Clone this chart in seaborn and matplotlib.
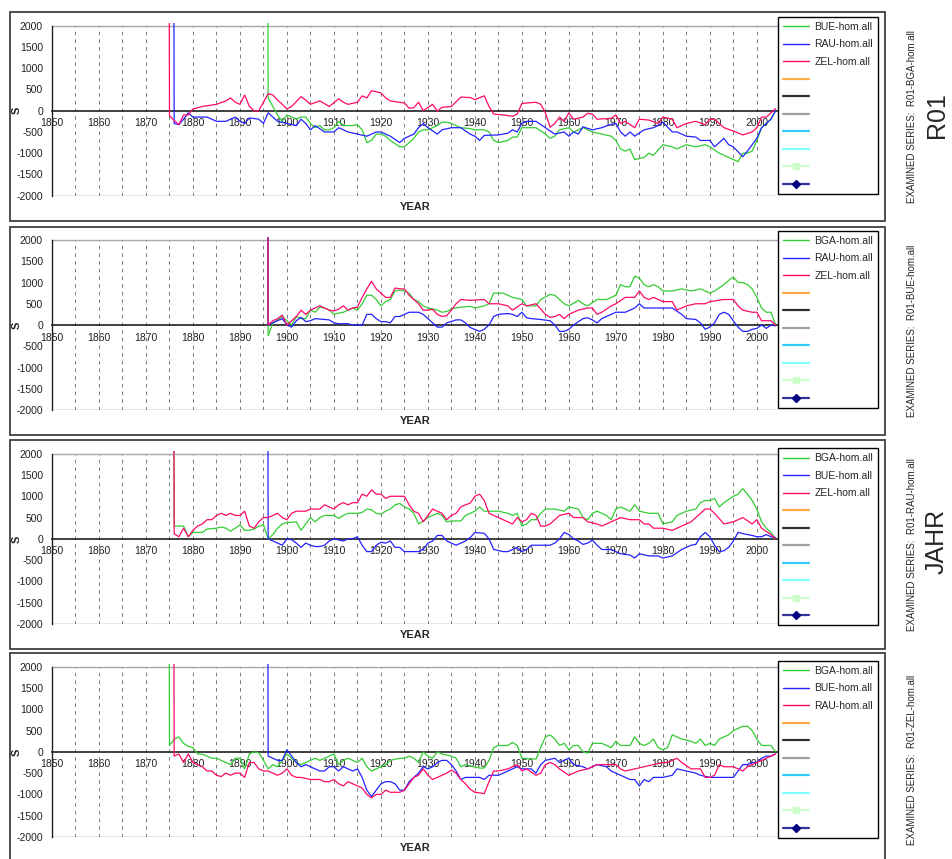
import pandas as pd
import numpy as np
import matplotlib
matplotlib.use("Agg")
import matplotlib.pyplot as plt
import seaborn as sns
from matplotlib.lines import Line2D
from matplotlib.patches import Rectangle

# ---------------------------------------------------------------
# datos (el primer punto de cada serie es el
# valor fuera de escala que produce la linea vertical de arranque)
# ---------------------------------------------------------------

# panel 1: R01-BGA-hom.all
p1_bue_years = [1895, 1896, 1897, 1898, 1899, 1900, 1901, 1902, 1903, 1904, 1905, 1906, 1907, 1908, 1909, 1910,
                1911, 1912, 1914, 1915, 1916, 1917, 1918, 1919, 1920, 1921, 1922, 1924, 1925, 1926, 1927, 1928,
                1929, 1930, 1932, 1933, 1934, 1935, 1937, 1939, 1940, 1941, 1942, 1943, 1944, 1945, 1947, 1948,
                1949, 1950, 1951, 1953, 1955, 1956, 1957, 1958, 1960, 1961, 1963, 1965, 1967, 1969, 1970, 1971,
                1972, 1973, 1974, 1976, 1977, 1978, 1980, 1982, 1983, 1985, 1987, 1989, 1990, 1992, 1994, 1996,
                1997, 1998, 1999, 2000, 2001, 2003, 2004]
p1_bue_vals = [50000, 300, 100, -100, -250, -100, -150, -200, -150, -150, -300, -400, -350, -450, -450, -400,
               -250, -350, -350, -330, -450, -750, -700, -550, -550, -600, -700, -850, -850, -750, -650, -500,
               -450, -450, -350, -270, -270, -300, -400, -420, -450, -450, -450, -500, -700, -750, -700, -620,
               -620, -400, -400, -400, -550, -650, -600, -450, -400, -500, -400, -500, -550, -600, -700, -900,
               -950, -900, -1150, -1100, -1000, -1050, -800, -850, -900, -800, -850, -800, -850, -1000, -1100, -1200,
               -1000, -1000, -950, -700, -400, -200, 0]

p1_rau_years = [1875, 1876, 1877, 1878, 1879, 1880, 1883, 1885, 1887, 1889, 1890, 1891, 1892, 1894, 1895, 1896,
                1897, 1898, 1900, 1902, 1903, 1904, 1905, 1906, 1908, 1910, 1911, 1913, 1915, 1917, 1919, 1920,
                1922, 1924, 1925, 1927, 1928, 1929, 1930, 1932, 1933, 1935, 1937, 1939, 1940, 1941, 1942, 1945,
                1947, 1948, 1949, 1950, 1951, 1953, 1955, 1957, 1959, 1960, 1961, 1962, 1963, 1965, 1967, 1969,
                1970, 1971, 1972, 1973, 1974, 1976, 1978, 1979, 1980, 1982, 1983, 1985, 1987, 1988, 1990, 1991,
                1993, 1994, 1995, 1997, 1998, 1999, 2000, 2001, 2002, 2003, 2004]
p1_rau_vals = [50000, -300, -330, -200, -50, -150, -150, -250, -250, -150, -250, -300, -170, -200, -300, -50,
               -150, -250, -300, -350, -200, -300, -450, -350, -500, -500, -400, -500, -550, -600, -500, -500,
               -600, -750, -650, -550, -400, -300, -400, -550, -450, -400, -400, -550, -600, -700, -580, -570,
               -530, -450, -500, -300, -250, -250, -400, -550, -500, -600, -500, -550, -380, -450, -400, -320,
               -300, -500, -600, -500, -600, -450, -400, -350, -270, -500, -500, -600, -620, -700, -700, -850,
               -650, -800, -850, -1085, -950, -800, -650, -400, -300, -200, 0]

p1_zel_years = [1874, 1875, 1876, 1877, 1878, 1879, 1880, 1882, 1885, 1887, 1888, 1889, 1890, 1891, 1892, 1893,
                1894, 1895, 1896, 1897, 1898, 1899, 1900, 1901, 1903, 1904, 1905, 1907, 1909, 1911, 1912, 1913,
                1915, 1916, 1917, 1918, 1920, 1921, 1922, 1925, 1926, 1927, 1928, 1929, 1931, 1932, 1933, 1935,
                1937, 1939, 1940, 1942, 1943, 1944, 1946, 1948, 1949, 1950, 1953, 1954, 1955, 1956, 1957, 1958,
                1959, 1960, 1961, 1963, 1964, 1965, 1966, 1969, 1970, 1971, 1972, 1974, 1975, 1977, 1979, 1980,
                1982, 1983, 1985, 1987, 1989, 1990, 1991, 1993, 1995, 1997, 1999, 2000, 2001, 2002, 2003, 2004]
p1_zel_vals = [50000, -116, -230, -330, -100, -100, 40, 100, 150, 230, 300, 200, 150, 370, 100, 0,
               0, 200, 400, 370, 250, 150, 40, 100, 330, 250, 150, 230, 100, 280, 200, 150,
               200, 350, 300, 470, 420, 300, 230, 180, 60, 70, 200, 0, 150, -10, 80, 100,
               320, 310, 260, 350, 100, -80, -100, -130, -80, 170, 200, 150, -50, -390, -300, -150,
               -250, -50, -200, -150, -60, -80, -200, -180, -100, -300, -250, -400, -200, -220, -300, -150,
               -200, -400, -300, -250, -330, -200, -200, -400, -480, -570, -500, -400, -150, -150, -50, 50]

# panel 2: R01-BUE-hom.all
p2_bga_years = [1895, 1896, 1897, 1898, 1899, 1900, 1901, 1902, 1903, 1904, 1905, 1906, 1907, 1908, 1909, 1910,
                1911, 1912, 1913, 1914, 1915, 1916, 1917, 1918, 1919, 1920, 1921, 1922, 1923, 1924, 1925, 1926,
                1927, 1928, 1929, 1930, 1931, 1932, 1933, 1934, 1935, 1937, 1939, 1940, 1942, 1943, 1944, 1946,
                1948, 1950, 1951, 1953, 1954, 1956, 1957, 1959, 1960, 1962, 1963, 1964, 1966, 1968, 1970, 1971,
                1972, 1973, 1974, 1975, 1976, 1977, 1978, 1979, 1980, 1982, 1984, 1986, 1988, 1990, 1991, 1993,
                1994, 1995, 1996, 1997, 1998, 1999, 2000, 2001, 2002, 2003, 2004]
p2_bga_vals = [50000, -250, 50, 120, 200, 100, 0, 200, 150, 150, 350, 300, 420, 400, 350, 250,
               280, 300, 350, 400, 350, 500, 700, 700, 600, 450, 550, 600, 800, 820, 800, 750,
               600, 550, 450, 400, 380, 350, 300, 320, 380, 420, 440, 400, 450, 500, 750, 750,
               650, 600, 450, 450, 600, 720, 700, 500, 450, 580, 500, 450, 600, 600, 700, 950,
               900, 900, 1150, 1100, 950, 900, 950, 900, 800, 800, 850, 800, 850, 750, 800, 950,
               1050, 1130, 1000, 1000, 950, 850, 650, 400, 300, 300, 0]

p2_rau_years = [1895, 1896, 1897, 1898, 1899, 1900, 1901, 1902, 1903, 1904, 1905, 1906, 1908, 1909, 1910, 1911,
                1913, 1914, 1916, 1917, 1918, 1919, 1920, 1921, 1922, 1923, 1924, 1925, 1926, 1928, 1929, 1930,
                1931, 1932, 1933, 1934, 1936, 1937, 1938, 1939, 1941, 1942, 1943, 1944, 1945, 1947, 1948, 1949,
                1950, 1951, 1952, 1954, 1956, 1957, 1958, 1959, 1960, 1961, 1963, 1964, 1965, 1966, 1967, 1969,
                1970, 1972, 1974, 1975, 1976, 1978, 1982, 1984, 1985, 1987, 1988, 1989, 1990, 1991, 1992, 1993,
                1994, 1995, 1996, 1997, 1998, 1999, 2000, 2001, 2002, 2003, 2004]
p2_rau_vals = [50000, 0, 50, 100, 150, 0, -50, 100, 180, 80, 100, 150, 130, 120, 50, 30,
               30, 0, 0, 250, 250, 150, 80, 80, 50, 200, 200, 250, 300, 300, 250, 150,
               50, -50, -50, 50, 120, 120, 50, -60, -150, -100, 0, 200, 250, 270, 250, 200,
               300, 170, 150, 130, 100, 0, -150, -150, -100, 0, 150, 170, 120, 50, 150, 250,
               300, 300, 400, 500, 400, 400, 400, 250, 150, 130, 50, -100, -50, 50, 250, 300,
               250, 100, -50, -150, -150, -100, -80, 0, -80, 0, -20]

p2_zel_years = [1895, 1896, 1897, 1898, 1899, 1900, 1901, 1902, 1903, 1904, 1905, 1906, 1907, 1908, 1909, 1910,
                1911, 1912, 1913, 1914, 1915, 1916, 1917, 1918, 1919, 1920, 1921, 1922, 1923, 1924, 1925, 1926,
                1927, 1928, 1929, 1930, 1931, 1932, 1933, 1934, 1935, 1936, 1937, 1939, 1942, 1943, 1945, 1947,
                1948, 1950, 1951, 1953, 1955, 1956, 1957, 1958, 1959, 1960, 1962, 1964, 1965, 1966, 1967, 1969,
                1970, 1972, 1974, 1975, 1976, 1977, 1978, 1980, 1982, 1983, 1985, 1987, 1989, 1990, 1993, 1995,
                1996, 1997, 1999, 2000, 2001, 2003, 2004]
p2_zel_vals = [50000, 0, 100, 150, 230, 0, 100, 200, 350, 250, 350, 400, 450, 400, 350, 330,
               370, 450, 350, 400, 420, 650, 850, 1030, 850, 750, 650, 650, 870, 850, 850, 700,
               600, 500, 350, 350, 370, 250, 200, 220, 350, 500, 600, 580, 600, 500, 500, 450,
               350, 500, 450, 500, 250, 180, 200, 250, 150, 250, 350, 400, 400, 250, 300, 450,
               500, 650, 650, 800, 650, 600, 650, 550, 550, 350, 450, 500, 500, 550, 600, 600,
               450, 350, 300, 300, 100, 100, 0]

# panel 3: R01-RAU-hom.all
p3_bga_years = [1875, 1876, 1877, 1878, 1879, 1880, 1882, 1883, 1885, 1886, 1887, 1888, 1889, 1890, 1891, 1892,
                1893, 1894, 1895, 1896, 1897, 1898, 1899, 1900, 1902, 1903, 1904, 1905, 1906, 1907, 1908, 1910,
                1911, 1912, 1913, 1915, 1916, 1917, 1918, 1919, 1920, 1921, 1922, 1923, 1924, 1925, 1926, 1927,
                1928, 1929, 1930, 1931, 1932, 1933, 1934, 1935, 1937, 1938, 1939, 1940, 1941, 1942, 1945, 1947,
                1948, 1949, 1950, 1951, 1952, 1953, 1954, 1955, 1957, 1959, 1960, 1962, 1963, 1964, 1965, 1966,
                1968, 1969, 1970, 1971, 1973, 1974, 1975, 1977, 1979, 1980, 1982, 1983, 1985, 1987, 1988, 1989,
                1990, 1991, 1992, 1993, 1995, 1996, 1997, 1998, 1999, 2000, 2001, 2002, 2003, 2004]
p3_bga_vals = [50000, 300, 300, 300, 50, 150, 150, 230, 250, 280, 250, 180, 250, 330, 200, 200,
               230, 300, 330, 0, 100, 250, 350, 380, 400, 200, 350, 500, 400, 500, 550, 550,
               480, 550, 600, 600, 620, 700, 680, 600, 580, 650, 700, 800, 830, 750, 700, 600,
               350, 420, 500, 550, 600, 550, 400, 420, 420, 550, 600, 650, 750, 650, 650, 600,
               550, 600, 300, 350, 450, 450, 600, 700, 700, 650, 750, 700, 500, 450, 600, 650,
               550, 450, 700, 750, 650, 800, 650, 600, 600, 350, 400, 550, 650, 700, 850, 900,
               900, 950, 750, 850, 1000, 1050, 1180, 1050, 900, 700, 400, 250, 150, 0]

p3_bue_years = [1895, 1896, 1897, 1898, 1899, 1900, 1901, 1902, 1903, 1904, 1905, 1906, 1907, 1908, 1909, 1910,
                1912, 1913, 1914, 1915, 1916, 1917, 1918, 1919, 1920, 1921, 1922, 1923, 1924, 1925, 1928, 1929,
                1930, 1931, 1932, 1933, 1934, 1935, 1936, 1937, 1938, 1939, 1940, 1942, 1943, 1944, 1946, 1947,
                1949, 1950, 1951, 1952, 1954, 1956, 1957, 1958, 1959, 1960, 1961, 1962, 1963, 1964, 1965, 1966,
                1967, 1969, 1970, 1971, 1973, 1974, 1975, 1977, 1979, 1980, 1982, 1984, 1986, 1987, 1988, 1989,
                1990, 1991, 1992, 1993, 1994, 1995, 1996, 1998, 1999, 2000, 2001, 2002, 2003, 2004]
p3_bue_vals = [50000, 0, -50, -100, -150, 0, -20, -100, -200, -100, -150, -180, -180, -150, -50, 0,
               -50, 0, 0, 50, -150, -300, -300, -150, -80, -100, -50, -200, -200, -300, -300, -250,
               -100, -50, 80, 80, -50, -100, -150, -100, -50, 30, 150, 130, 0, -250, -300, -300,
               -200, -300, -250, -150, -150, -150, -100, 0, 150, 100, 0, -50, -130, -100, -30, -150,
               -250, -250, -300, -350, -380, -450, -350, -400, -400, -450, -400, -250, -150, -130, 50, 150,
               50, -150, -300, -280, -200, -50, 150, 100, 80, 50, 50, 100, 50, 30]

p3_zel_years = [1875, 1876, 1877, 1878, 1879, 1880, 1881, 1882, 1883, 1884, 1885, 1886, 1887, 1888, 1889, 1890,
                1891, 1892, 1893, 1894, 1895, 1896, 1897, 1898, 1899, 1900, 1901, 1902, 1904, 1905, 1907, 1908,
                1909, 1910, 1911, 1912, 1913, 1914, 1915, 1916, 1917, 1918, 1919, 1920, 1921, 1922, 1925, 1926,
                1927, 1928, 1929, 1930, 1931, 1932, 1933, 1934, 1935, 1936, 1937, 1938, 1939, 1940, 1941, 1942,
                1943, 1945, 1947, 1948, 1949, 1950, 1951, 1952, 1953, 1954, 1955, 1956, 1958, 1960, 1961, 1963,
                1964, 1966, 1967, 1969, 1971, 1973, 1975, 1976, 1977, 1978, 1980, 1982, 1984, 1986, 1988, 1989,
                1990, 1991, 1993, 1995, 1997, 1999, 2000, 2001, 2003, 2004]
p3_zel_vals = [50000, 120, 50, 250, 50, 200, 300, 350, 450, 450, 550, 600, 550, 600, 550, 550,
               650, 300, 250, 400, 500, 500, 550, 600, 500, 450, 600, 650, 650, 700, 700, 800,
               750, 700, 800, 850, 800, 850, 850, 1050, 1000, 1150, 1050, 1050, 950, 1000, 1000, 800,
               650, 600, 400, 550, 700, 650, 600, 450, 550, 600, 750, 800, 840, 1000, 1050, 900,
               600, 500, 400, 350, 500, 400, 450, 600, 550, 300, 300, 350, 550, 600, 500, 500,
               400, 350, 300, 400, 500, 450, 450, 350, 350, 250, 250, 200, 300, 400, 600, 700,
               700, 600, 350, 400, 500, 350, 450, 250, 100, 0]

# panel 4: R01-ZEL-hom.all
p4_bga_years = [1874, 1875, 1876, 1877, 1878, 1879, 1880, 1881, 1882, 1883, 1884, 1885, 1886, 1887, 1888, 1889,
                1890, 1891, 1892, 1893, 1894, 1895, 1896, 1897, 1898, 1899, 1900, 1901, 1902, 1903, 1904, 1905,
                1906, 1907, 1908, 1909, 1910, 1911, 1912, 1913, 1914, 1915, 1916, 1917, 1918, 1919, 1920, 1921,
                1922, 1924, 1925, 1926, 1927, 1928, 1929, 1930, 1931, 1932, 1933, 1935, 1936, 1937, 1938, 1939,
                1941, 1942, 1943, 1944, 1945, 1947, 1948, 1949, 1950, 1953, 1954, 1955, 1956, 1957, 1958, 1959,
                1960, 1961, 1962, 1963, 1964, 1965, 1967, 1969, 1970, 1971, 1973, 1974, 1975, 1976, 1977, 1978,
                1979, 1980, 1981, 1982, 1984, 1986, 1987, 1988, 1989, 1990, 1991, 1992, 1994, 1995, 1996, 1997,
                1998, 1999, 2000, 2001, 2003, 2004]
p4_bga_vals = [50000, 150, 300, 350, 200, 130, 100, -50, -60, -100, -150, -150, -200, -250, -300, -150,
               -150, -400, -50, 0, -20, -200, -400, -300, -350, -200, -50, -150, -250, -300, -250, -200,
               -150, -200, -150, -100, -50, -300, -200, -150, -200, -250, -150, -350, -450, -400, -350, -300,
               -200, -150, -150, -100, -150, -250, 0, -100, -150, 0, -50, -100, -150, -350, -300, -330,
               -380, -380, -200, 100, 150, 150, 220, 150, -150, -170, 100, 350, 400, 300, 150, 200,
               50, 150, 150, 0, -30, 200, 200, 100, 250, 150, 150, 350, 200, 150, 200, 300,
               100, 50, 100, 400, 300, 250, 200, 300, 150, 200, 150, 300, 400, 500, 550, 600,
               600, 500, 300, 150, 150, 0]

p4_bue_years = [1895, 1896, 1897, 1898, 1899, 1900, 1901, 1902, 1903, 1904, 1905, 1906, 1907, 1908, 1909, 1910,
                1911, 1912, 1913, 1914, 1915, 1916, 1917, 1918, 1919, 1920, 1921, 1922, 1923, 1924, 1925, 1926,
                1927, 1928, 1929, 1930, 1931, 1932, 1933, 1934, 1935, 1936, 1937, 1938, 1941, 1942, 1943, 1945,
                1947, 1949, 1950, 1952, 1953, 1954, 1955, 1957, 1958, 1959, 1960, 1961, 1963, 1964, 1966, 1968,
                1969, 1971, 1973, 1974, 1975, 1976, 1977, 1978, 1980, 1982, 1983, 1985, 1987, 1988, 1990, 1991,
                1995, 1996, 1997, 1998, 1999, 2000, 2001, 2002, 2003, 2004]
p4_bue_vals = [50000, -100, -150, -200, -200, 50, -100, -250, -350, -300, -350, -400, -450, -450, -350, -350,
               -450, -350, -400, -450, -400, -600, -900, -1050, -900, -750, -700, -700, -750, -900, -900, -700,
               -600, -500, -350, -400, -350, -250, -200, -200, -300, -450, -650, -600, -600, -650, -550, -550,
               -450, -350, -400, -400, -500, -300, -200, -150, -250, -200, -150, -300, -350, -400, -300, -350,
               -450, -550, -650, -650, -800, -650, -700, -600, -600, -550, -400, -450, -500, -550, -600, -600,
               -600, -450, -300, -300, -250, -250, -150, -100, -100, -50]

p4_rau_years = [1875, 1876, 1877, 1878, 1879, 1880, 1881, 1882, 1883, 1884, 1885, 1886, 1887, 1888, 1889, 1890,
                1891, 1892, 1893, 1894, 1895, 1896, 1897, 1898, 1899, 1900, 1901, 1902, 1903, 1905, 1907, 1908,
                1909, 1910, 1911, 1912, 1913, 1914, 1915, 1916, 1917, 1918, 1919, 1920, 1921, 1922, 1924, 1925,
                1926, 1927, 1928, 1929, 1930, 1931, 1932, 1933, 1934, 1935, 1936, 1937, 1938, 1939, 1940, 1942,
                1943, 1944, 1945, 1947, 1948, 1949, 1950, 1951, 1953, 1954, 1955, 1956, 1957, 1958, 1960, 1962,
                1964, 1966, 1968, 1970, 1971, 1972, 1974, 1976, 1978, 1980, 1981, 1983, 1984, 1986, 1988, 1989,
                1990, 1991, 1992, 1993, 1995, 1996, 1997, 1998, 1999, 2000, 2001, 2002, 2003, 2004]
p4_rau_vals = [50000, -100, -50, -250, -50, -250, -300, -350, -450, -450, -550, -580, -500, -550, -500, -500,
               -600, -250, -250, -400, -450, -450, -500, -550, -500, -400, -550, -600, -600, -650, -650, -700,
               -700, -650, -750, -800, -700, -750, -800, -850, -1000, -1080, -1000, -1000, -900, -950, -950, -900,
               -750, -600, -550, -400, -550, -650, -600, -550, -500, -430, -500, -650, -750, -880, -950, -980,
               -700, -450, -450, -400, -350, -300, -450, -400, -550, -500, -300, -250, -300, -400, -550, -450,
               -400, -300, -300, -300, -400, -450, -400, -350, -300, -250, -250, -150, -250, -400, -400, -600,
               -600, -550, -300, -350, -350, -400, -450, -350, -300, -250, -200, -150, -100, -50]

examined = ["R01-BGA-hom.all", "R01-BUE-hom.all", "R01-RAU-hom.all", "R01-ZEL-hom.all"]
panel_labels = [
    ["BUE-hom.all", "RAU-hom.all", "ZEL-hom.all"],
    ["BGA-hom.all", "RAU-hom.all", "ZEL-hom.all"],
    ["BGA-hom.all", "BUE-hom.all", "ZEL-hom.all"],
    ["BGA-hom.all", "BUE-hom.all", "RAU-hom.all"],
]
panel_series = [
    [(p1_bue_years, p1_bue_vals), (p1_rau_years, p1_rau_vals), (p1_zel_years, p1_zel_vals)],
    [(p2_bga_years, p2_bga_vals), (p2_rau_years, p2_rau_vals), (p2_zel_years, p2_zel_vals)],
    [(p3_bga_years, p3_bga_vals), (p3_bue_years, p3_bue_vals), (p3_zel_years, p3_zel_vals)],
    [(p4_bga_years, p4_bga_vals), (p4_bue_years, p4_bue_vals), (p4_rau_years, p4_rau_vals)],
]

# estilo
colores = ["#33cc33", "#2222ff", "#ff0a6a"]
extra_leyenda = [
    dict(color="#ffaa44"), dict(color="#303030"), dict(color="#a0a0a0"),
    dict(color="#33ccff"), dict(color="#80ffff"),
    dict(color="#ccffcc", marker="s", markersize=5),
    dict(color="#333399", marker="D", markersize=4, markerfacecolor="#000080", markeredgecolor="#000080"),
]

W, H = 952, 859
sns.set_style("white")
plt.rcParams["font.family"] = ["Liberation Sans", "DejaVu Sans"]
plt.rcParams["axes.unicode_minus"] = False

fig = plt.figure(figsize=(W / 100, H / 100), dpi=100)

# posiciones en pixeles (y=2000 y y=-2000 de cada panel)
tops = [25.7, 240.0, 453.7, 666.7]
bottoms = [195.7, 410.0, 624.0, 837.0]
boxes = [(12.5, 221.0), (227.0, 434.5), (440.0, 648.5), (653.0, 866.0)]
legend_tops = [17.0, 231.0, 448.5, 661.0]
x_left, x_right = 52.0, 778.0
ymax_ext = 2070

for i in range(4):
    top, bot = tops[i], bottoms[i]
    top_ax = top - (ymax_ext - 2000) * (bot - top) / 4000
    ax = fig.add_axes([x_left / W, 1 - bot / H, (x_right - x_left) / W, (bot - top_ax) / H])
    ax.set_facecolor("none")

    frames = []
    for (yrs, vals), lab in zip(panel_series[i], panel_labels[i]):
        frames.append(pd.DataFrame({"year": yrs, "value": vals, "serie": lab}))
    df = pd.concat(frames, ignore_index=True)

    # cuadricula vertical punteada cada 5 años
    ax.vlines(np.arange(1855, 2001, 5), -2000, 2000, colors="#707070",
              linestyles=(0, (4, 4.5)), linewidth=0.65, zorder=1)
    ax.axhline(2000, color="#a8a8a8", lw=1.0, zorder=1)
    ax.axhline(-2000, color="#909090", lw=1.0, zorder=1)

    sns.lineplot(data=df, x="year", y="value", hue="serie", hue_order=panel_labels[i],
                 palette=colores, estimator=None, legend=False, linewidth=0.9, ax=ax, zorder=3)

    ax.set_xlim(1850, 2004.5)
    ax.set_ylim(-2000, ymax_ext)
    ax.set_xticks(np.arange(1850, 2001, 10))
    ax.set_yticks(np.arange(-2000, 2001, 500))
    ax.set_xticklabels([str(y) for y in range(1850, 2001, 10)])
    ax.tick_params(axis="both", direction="inout", length=5, width=0.8, colors="#202020",
                   labelsize=7.5, labelcolor="#202020")
    ax.tick_params(axis="x", pad=3)
    ax.tick_params(axis="y", pad=4)

    for s in ["top", "right"]:
        ax.spines[s].set_visible(False)
    ax.spines["bottom"].set_position(("data", 0))
    ax.spines["bottom"].set_color("#303030")
    ax.spines["bottom"].set_linewidth(1.3)
    ax.spines["bottom"].set_zorder(2)
    ax.spines["left"].set_bounds(-2000, 2000)
    ax.spines["left"].set_color("#202020")
    ax.spines["left"].set_linewidth(1.0)

    ax.set_xlabel("")
    ax.set_ylabel("S", fontsize=8, fontweight="bold")
    ax.yaxis.set_label_coords(-30 / (x_right - x_left), 2000 / (ymax_ext + 2000))
    fig.text(((x_left + x_right) / 2) / W, 1 - (bot + 11) / H, "YEAR", ha="center", va="center",
             fontsize=8, fontweight="bold")

    # leyenda
    handles = [Line2D([], [], color=c, lw=1.0) for c in colores]
    handles += [Line2D([], [], lw=1.6, **kw) for kw in extra_leyenda]
    labels = panel_labels[i] + [""] * len(extra_leyenda)
    leg = ax.legend(handles, labels, loc="upper left",
                    bbox_to_anchor=(x_right / W, 1 - legend_tops[i] / H), bbox_transform=fig.transFigure,
                    borderaxespad=0, frameon=True, fancybox=False, framealpha=1, edgecolor="black",
                    fontsize=7.5, handlelength=2.56, handletextpad=0.47, labelspacing=0.72,
                    borderpad=0.45, numpoints=1)
    leg.get_frame().set_linewidth(1.0)

    # marco exterior del panel
    b_top, b_bot = boxes[i]
    fig.patches.append(Rectangle((10 / W, 1 - b_bot / H), (885 - 10) / W, (b_bot - b_top) / H,
                                 transform=fig.transFigure, fill=False, edgecolor="#404040", lw=1.3))

    # texto lateral
    fig.text(912 / W, 1 - ((b_top + b_bot) / 2) / H, "EXAMINED SERIES:  " + examined[i],
             rotation=90, ha="center", va="center", fontsize=7)

fig.text(937 / W, 1 - 115 / H, "R01", rotation=90, ha="center", va="center", fontsize=18)
fig.text(937 / W, 1 - 541 / H, "JAHR", rotation=90, ha="center", va="center", fontsize=18)

fig.savefig("out.png", dpi=100)
